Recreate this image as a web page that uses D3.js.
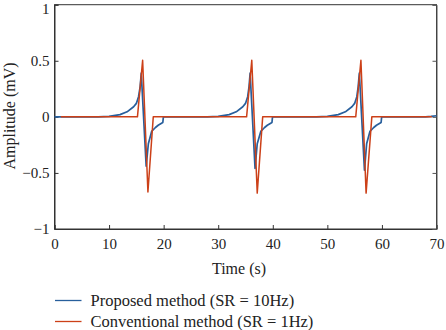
<!DOCTYPE html>
<html>
<head>
<meta charset="utf-8">
<script src="https://cdn.jsdelivr.net/npm/d3@7"></script>
<style>
  html, body { margin: 0; padding: 0; background: #fff; }
  svg { display: block; }
  text { font-family: "Liberation Serif", "DejaVu Serif", serif; fill: #222; }
</style>
</head>
<body>
<svg id="chart" width="446" height="330"></svg>
<script>
// ---- data ----
const xTicks = [0, 10, 20, 30, 40, 50, 60, 70];
const yTicks = [-1, -0.5, 0, 0.5, 1];
const yTickLabels = ["\u22121", "\u22120.5", "0", "0.5", "1"];
const seriesNames = ["Proposed method (SR = 10Hz)", "Conventional method (SR = 1Hz)"];

// Proposed method (SR = 10Hz): time (s) and amplitude (mV)
const proposedTime = [
  0, 8, 10, 12, 13.3, 14.5, 15.0, 15.4, 15.7, 15.9, 16.8, 17.2, 17.8, 18.5, 19.0, 19.85, 19.95, 20.0,
  28, 30, 32, 33.3, 34.5, 35.0, 35.4, 35.65, 35.85, 36.75, 37.15, 37.8, 38.5, 39.0, 39.85, 39.95, 40.0,
  48, 50, 52, 53.3, 54.5, 55.0, 55.4, 55.65, 55.86, 56.8, 57.2, 57.8, 58.5, 59.0, 59.85, 59.95, 60.0,
  68, 69, 70
];
const proposedAmp = [
  0, 0, 0.005, 0.02, 0.045, 0.09, 0.12, 0.18, 0.27, 0.39, -0.44, -0.24, -0.13, -0.095, -0.075, -0.05, 0, 0,
  0, 0.005, 0.02, 0.045, 0.09, 0.12, 0.18, 0.27, 0.39, -0.46, -0.24, -0.13, -0.095, -0.075, -0.05, 0, 0,
  0, 0.005, 0.02, 0.045, 0.09, 0.12, 0.18, 0.27, 0.39, -0.475, -0.24, -0.13, -0.095, -0.075, -0.05, 0, 0,
  0, 0.004, 0.01
];

// Conventional method (SR = 1Hz)
const conventionalTime = [1.15, 15.2, 16.15, 17.12, 18.1, 35.2, 36.15, 37.15, 38.15, 55.2, 56.15, 57.1, 58.15, 69.15];
const conventionalAmp  = [0, 0, 0.505, -0.67, 0, 0, 0.505, -0.68, 0, 0, 0.505, -0.68, 0, 0];

// ---- drawing ----
const svg = d3.select("#chart");
const X0 = 54.5, X1 = 436.5, Y0 = 229, Y1 = 4.7;
const x = d3.scaleLinear().domain([0, 70]).range([X0, X1]);
const y = d3.scaleLinear().domain([-1, 1]).range([Y0, Y1]);

const colBlue = "#285f9c", colRed = "#cc4018";

// frame
svg.append("rect").attr("x", X0).attr("y", Y1).attr("width", X1 - X0).attr("height", Y0 - Y1)
  .attr("fill", "none").attr("stroke", "#333").attr("stroke-width", 1);

// bottom axis
const gx = svg.append("g").attr("transform", `translate(0,${Y0})`)
  .call(d3.axisBottom(x).tickValues(xTicks).tickSize(-4).tickPadding(9.5).tickFormat(d3.format("d")));
gx.select(".domain").attr("stroke", "#333");
gx.selectAll(".tick line").attr("stroke", "#333");
gx.selectAll("text").style("font-size", "15px").attr("fill", "#222").style("font-family", "Liberation Serif");

// left axis
const gy = svg.append("g").attr("transform", `translate(${X0},0)`)
  .call(d3.axisLeft(y).tickValues(yTicks).tickSize(-4).tickPadding(5).tickFormat((d, i) => yTickLabels[i]));
gy.select(".domain").attr("stroke", "#333");
gy.selectAll(".tick line").attr("stroke", "#333");
gy.selectAll("text").style("font-size", "15px").attr("fill", "#222").style("font-family", "Liberation Serif");
// keep the top label inside the picture
gy.selectAll(".tick").filter(d => d === 1).select("text").attr("dy", "0.6em");

// right axis ticks (inward)
const gr = svg.append("g").attr("transform", `translate(${X1},0)`)
  .call(d3.axisRight(y).tickValues(yTicks).tickSize(-4).tickFormat(""));
gr.select(".domain").attr("stroke", "#555");
gr.selectAll(".tick line").attr("stroke", "#555");

// lines
const line = d3.line().x(d => x(d[0])).y(d => y(d[1]));
const proposed = proposedTime.map((t, i) => [t, proposedAmp[i]]);
const conventional = conventionalTime.map((t, i) => [t, conventionalAmp[i]]);

svg.append("path").datum(proposed).attr("d", line)
  .attr("fill", "none").attr("stroke", colBlue).attr("stroke-width", 1.7).attr("stroke-linejoin", "round");
svg.append("path").datum(conventional).attr("d", line)
  .attr("fill", "none").attr("stroke", colRed).attr("stroke-width", 1.5).attr("stroke-linejoin", "round");

// axis labels
svg.append("text").attr("x", 239).attr("y", 273.5).attr("text-anchor", "middle")
  .style("font-size", "16px").text("Time (s)");
svg.append("text").attr("transform", "translate(15,116) rotate(-90)").attr("text-anchor", "middle")
  .style("font-size", "16px").text("Amplitude (mV)");

// legend
const legY = [300.5, 321.5];
const legCol = [colBlue, colRed];
seriesNames.forEach((name, i) => {
  svg.append("line").attr("x1", 55).attr("x2", 81.5).attr("y1", legY[i]).attr("y2", legY[i])
    .attr("stroke", legCol[i]).attr("stroke-width", 1.3);
  svg.append("text").attr("x", 90.5).attr("y", legY[i] + 5).style("font-size", "16.5px").text(name);
});
</script>
</body>
</html>
